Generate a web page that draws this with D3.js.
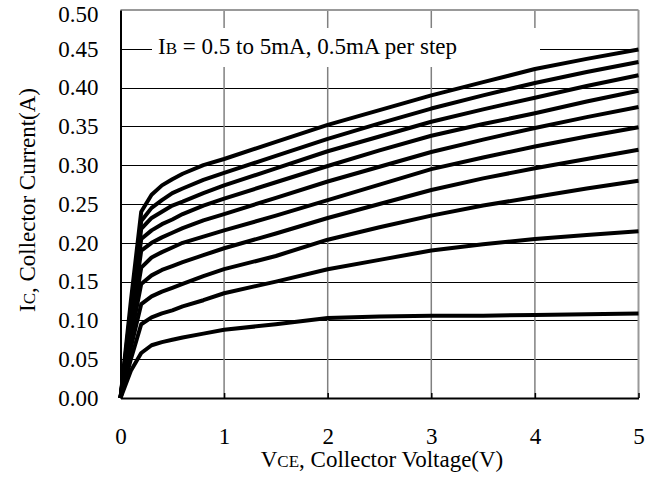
<!DOCTYPE html>
<html>
<head>
<meta charset="utf-8">
<script src="https://cdn.jsdelivr.net/npm/d3@7"></script>
<style>
  body { margin: 0; background: #fff; }
  svg text { font-family: "Liberation Serif", "Times New Roman", Tinos, "DejaVu Serif", serif !important; fill: #000; }
</style>
</head>
<body>
<div id="chart"></div>
<script>
// collector voltage sample points (V)
var vce = [0, 0.1, 0.2, 0.3, 0.4, 0.5, 0.6, 0.8, 1.0, 1.5, 2, 2.5, 3, 3.5, 4, 4.5, 5];

// base current steps (mA)
var ibSteps = [5, 4.5, 4, 3.5, 3, 2.5, 2, 1.5, 1, 0.5];

// collector current (A), one array per base current
var ic50 = [0, 0.125, 0.240, 0.262, 0.274, 0.282, 0.289, 0.300, 0.308, 0.330, 0.352, 0.371, 0.390, 0.407, 0.424, 0.437, 0.449];
var ic45 = [0, 0.115, 0.228, 0.245, 0.255, 0.264, 0.270, 0.281, 0.290, 0.312, 0.334, 0.354, 0.373, 0.390, 0.406, 0.420, 0.433];
var ic40 = [0, 0.108, 0.218, 0.232, 0.240, 0.248, 0.253, 0.264, 0.274, 0.296, 0.318, 0.337, 0.356, 0.372, 0.387, 0.402, 0.416];
var ic35 = [0, 0.100, 0.205, 0.216, 0.224, 0.230, 0.237, 0.248, 0.257, 0.278, 0.299, 0.319, 0.338, 0.353, 0.367, 0.382, 0.396];
var ic30 = [0, 0.095, 0.190, 0.200, 0.207, 0.213, 0.219, 0.229, 0.237, 0.258, 0.279, 0.298, 0.317, 0.333, 0.348, 0.362, 0.375];
var ic25 = [0, 0.088, 0.168, 0.181, 0.188, 0.194, 0.200, 0.208, 0.216, 0.235, 0.255, 0.275, 0.295, 0.310, 0.324, 0.337, 0.349];
var ic20 = [0, 0.078, 0.147, 0.158, 0.165, 0.170, 0.175, 0.184, 0.193, 0.212, 0.232, 0.250, 0.268, 0.283, 0.296, 0.308, 0.320];
var ic15 = [0, 0.065, 0.121, 0.131, 0.137, 0.142, 0.147, 0.157, 0.166, 0.183, 0.204, 0.220, 0.235, 0.248, 0.259, 0.270, 0.280];
var ic10 = [0, 0.050, 0.095, 0.104, 0.109, 0.113, 0.118, 0.126, 0.135, 0.150, 0.166, 0.178, 0.190, 0.198, 0.205, 0.210, 0.215];
var ic05 = [0, 0.035, 0.058, 0.068, 0.072, 0.075, 0.078, 0.083, 0.088, 0.095, 0.103, 0.105, 0.106, 0.106, 0.107, 0.108, 0.109];

var xTicks = [0, 1, 2, 3, 4, 5];
var yTicks = [0, 0.05, 0.10, 0.15, 0.20, 0.25, 0.30, 0.35, 0.40, 0.45, 0.50];

var series = [ic50, ic45, ic40, ic35, ic30, ic25, ic20, ic15, ic10, ic05].map(function(arr, i) {
    return { ib: ibSteps[i], points: arr.map(function(v, j) { return [vce[j], v]; }) };
});

var svgWidth = 654, svgHeight = 479;
var margin = { top: 10, right: 15.5, bottom: 81, left: 120.5 };
var width = svgWidth - margin.left - margin.right;
var height = svgHeight - margin.top - margin.bottom;

var svg = d3.select("#chart").append("svg")
    .attr("width", svgWidth)
    .attr("height", svgHeight);

var g = svg.append("g")
    .attr("transform", "translate(" + margin.left + "," + margin.top + ")");

var x = d3.scaleLinear().domain([0, 5]).range([0, width]);
var y = d3.scaleLinear().domain([0, 0.5]).range([height, 0]);

// horizontal grid (black)
g.append("g")
    .selectAll("line")
    .data(yTicks.slice(1, -1))
    .enter().append("line")
    .attr("x1", 0).attr("x2", width)
    .attr("y1", function(d) { return Math.round(y(d)) + 0.5; })
    .attr("y2", function(d) { return Math.round(y(d)) + 0.5; })
    .attr("stroke", "#000")
    .attr("stroke-width", 1);

// vertical grid (gray)
g.append("g")
    .selectAll("line")
    .data(xTicks.slice(1, -1))
    .enter().append("line")
    .attr("x1", function(d) { return x(d); })
    .attr("x2", function(d) { return x(d); })
    .attr("y1", 0).attr("y2", height)
    .attr("stroke", "#808080")
    .attr("stroke-width", 1.5);

// legend box hides grid behind the text
g.append("rect")
    .attr("x", 152 - margin.left)
    .attr("y", 28 - margin.top)
    .attr("width", 540 - 152)
    .attr("height", 67 - 28)
    .attr("fill", "#fff");

var legend = g.append("text")
    .attr("x", 158 - margin.left)
    .attr("y", 54 - margin.top)
    .attr("font-size", 23);
legend.append("tspan").text("I");
legend.append("tspan").attr("font-size", 17).text("B");
legend.append("tspan").text(" = 0.5 to 5mA, 0.5mA per step");

// frame: top/right gray, left/bottom black
g.append("line").attr("x1", 0).attr("x2", width).attr("y1", 0).attr("y2", 0)
    .attr("stroke", "#999").attr("stroke-width", 2);
g.append("line").attr("x1", width).attr("x2", width).attr("y1", 0).attr("y2", height)
    .attr("stroke", "#999").attr("stroke-width", 2);

// curves
var line = d3.line()
    .x(function(d) { return x(d[0]); })
    .y(function(d) { return y(d[1]); });

g.append("g")
    .selectAll("path")
    .data(series)
    .enter().append("path")
    .attr("d", function(d) { return line(d.points); })
    .attr("fill", "none")
    .attr("stroke", "#000")
    .attr("stroke-width", 4)
    .attr("stroke-linejoin", "round");

// axes
var xAxis = g.append("g")
    .attr("transform", "translate(0," + height + ")")
    .call(d3.axisBottom(x).tickValues(xTicks).tickSizeInner(-5).tickSizeOuter(0).tickPadding(30)
        .tickFormat(d3.format("d")));
var yAxis = g.append("g")
    .call(d3.axisLeft(y).tickValues(yTicks).tickSizeInner(0).tickSizeOuter(0).tickPadding(22)
        .tickFormat(d3.format(".2f")));

[xAxis, yAxis].forEach(function(a) {
    a.attr("font-family", null);
    a.select(".domain").attr("stroke", "#000").attr("stroke-width", 2);
    a.selectAll(".tick line").attr("stroke", "#000").attr("stroke-width", 1.5);
    a.selectAll(".tick text")
        .attr("font-size", 23)
        .attr("fill", "#000");
});

// keep the top label inside the page
yAxis.selectAll(".tick text").filter(function(d) { return d === 0.5; }).attr("dy", "0.5em");

// axis titles
var xTitle = svg.append("text")
    .attr("x", 382)
    .attr("y", 467)
    .attr("text-anchor", "middle")
    .attr("font-size", 23);
xTitle.append("tspan").text("V");
xTitle.append("tspan").attr("font-size", 17).text("CE");
xTitle.append("tspan").text(", Collector Voltage(V)");

var yTitle = svg.append("text")
    .attr("transform", "translate(35,200) rotate(-90)")
    .attr("text-anchor", "middle")
    .attr("font-size", 23);
yTitle.append("tspan").text("I");
yTitle.append("tspan").attr("font-size", 17).text("C");
yTitle.append("tspan").text(", Collector Current(A)");
</script>
</body>
</html>
